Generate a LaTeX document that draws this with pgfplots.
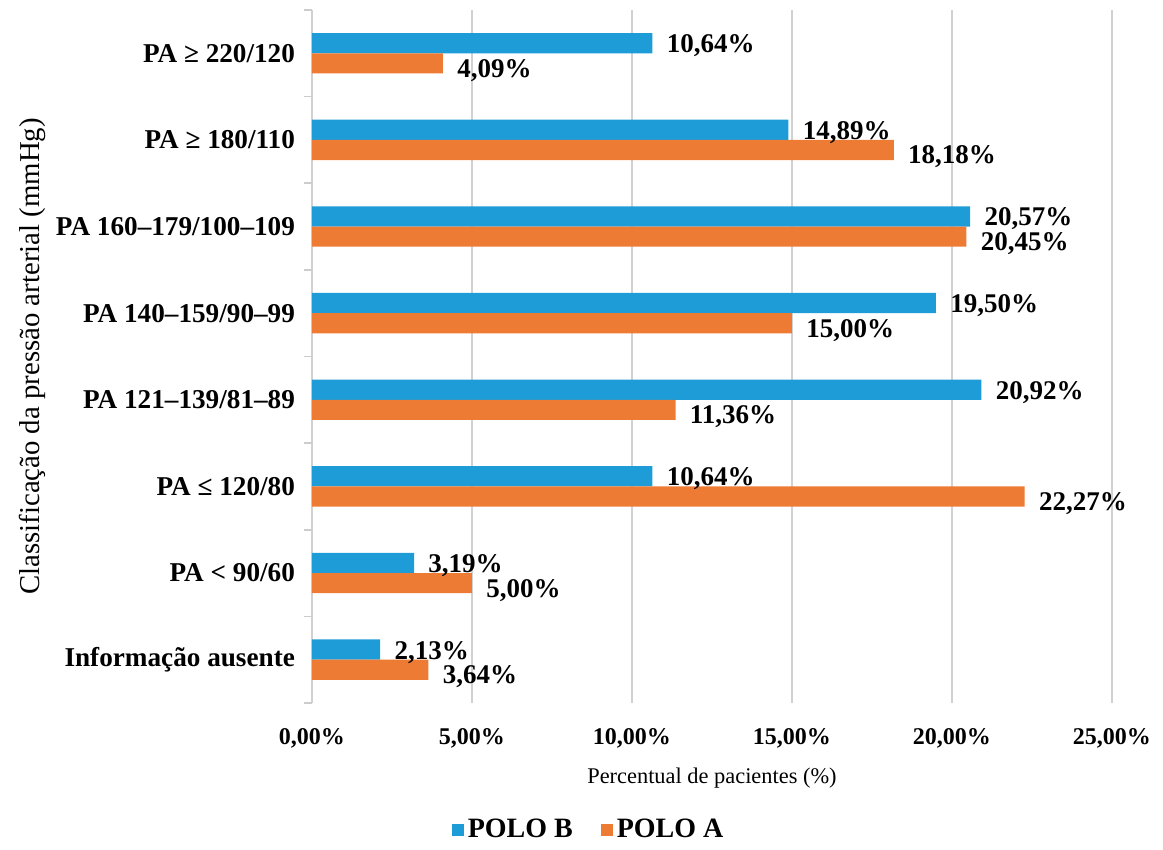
\documentclass[border=0pt]{standalone}
\usepackage{fontspec}
\setmainfont{Liberation Serif}
\usepackage{pgfplots}
\pgfplotsset{compat=1.18}

\definecolor{poloB}{RGB}{30,156,216}
\definecolor{poloA}{RGB}{237,123,52}

\begin{document}
\begin{tikzpicture}
\begin{axis}[
  name=ax,
  scale only axis,
  width=400pt, height=346.5pt,
  xbar, bar width=0.233,
  xmin=0, xmax=25,
  ymin=-0.5, ymax=7.5,
  axis line style={draw=none},
  xmajorgrids,
  grid style={black!18, line width=0.9pt},
  xtick={0,5,...,25},
  xticklabels={{0,00\%},{5,00\%},{10,00\%},{15,00\%},{20,00\%},{25,00\%}},
  xticklabel style={font=\fontsize{12}{13}\selectfont\bfseries, yshift=-9pt},
  major tick length=0pt,
  ytick={0,...,7},
  ytick pos=left,
  yticklabels={Informação ausente, PA < 90/60, PA ≤ 120/80, PA 121–139/81–89,
               PA 140–159/90–99, PA 160–179/100–109, PA ≥ 180/110, PA ≥ 220/120},
  yticklabel style={font=\fontsize{13.6}{15}\selectfont\bfseries, xshift=-5pt},
  minor ytick={-0.5,0.5,...,7.5},
  minor tick length=4pt,
  tick align=outside,
  minor tick style={black!20, line width=0.8pt},
  xlabel={Percentual de pacientes (\%)},
  xlabel style={font=\fontsize{11.2}{13}\selectfont, yshift=-3pt},
  ylabel={Classificação da pressão arterial (mmHg)},
  ylabel style={font=\fontsize{14.4}{16}\selectfont, yshift=-2pt},
  /pgf/number format/assume math mode=true,
  nodes near coords={\pgfmathprintnumber[fixed,fixed zerofill,precision=2,use comma]{\pgfplotspointmeta}\%},
  nodes near coords style={font=\fontsize{13.5}{15}\selectfont\bfseries, text=black,
    anchor=west, xshift=7pt, inner sep=0pt},
  point meta=x,
  legend columns=2,
  legend style={draw=none, at={(0.347,-0.183)}, anchor=center,
    font=\fontsize{14}{15}\selectfont\bfseries,
    /tikz/every even column/.append style={column sep=12pt}},
  legend image code/.code={\fill[#1] (0pt,-3pt) rectangle (6pt,3pt);},
]
\addplot+[draw=none, fill=poloB, bar shift=0.1165,
  nodes near coords style={yshift=-1.3pt}] coordinates {
  (2.13,0) (3.19,1) (10.64,2) (20.92,3) (19.50,4) (20.57,5) (14.89,6) (10.64,7)
};
\addlegendentry{POLO B}
\addplot+[draw=none, fill=poloA, bar shift=-0.1165,
  nodes near coords style={yshift=-3.5pt}] coordinates {
  (3.64,0) (5.00,1) (22.27,2) (11.36,3) (15.00,4) (20.45,5) (18.18,6) (4.09,7)
};
\addlegendentry{POLO A}
\end{axis}
% page frame around the chart
\pgfresetboundingbox
\path ([xshift=-156pt,yshift=-73.5pt]ax.south west)
      ([xshift=25.5pt,yshift=5pt]ax.north east);
\end{tikzpicture}
\end{document}
